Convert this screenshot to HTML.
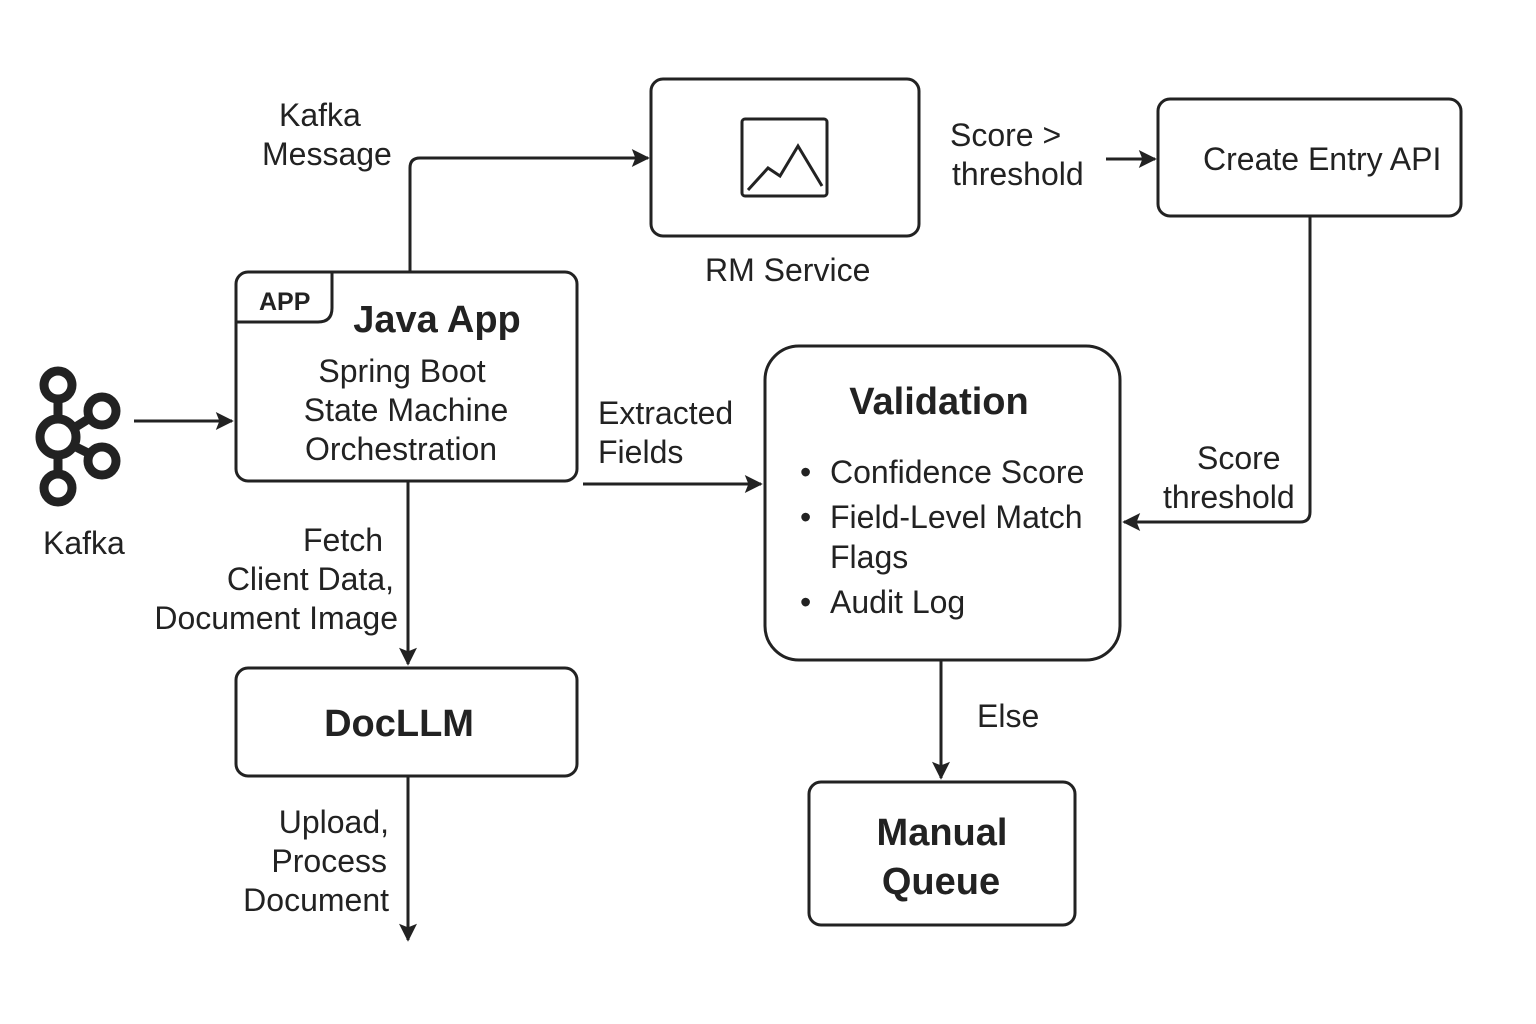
<!DOCTYPE html>
<html><head><meta charset="utf-8"><style>
body{margin:0;background:#fff}
svg{display:block}
text{font-family:"Liberation Sans",sans-serif;fill:#222}
</style></head><body>
<svg width="1536" height="1024" viewBox="0 0 1536 1024">
<defs>
<marker id="b" viewBox="0 0 10 10" refX="9" refY="5" markerWidth="24" markerHeight="18" markerUnits="userSpaceOnUse" orient="auto"><path d="M0,0 L10,5 L0,10 L2,5 z" fill="#222"/></marker></defs>
<g fill="none" stroke="#222" stroke-width="3">
<rect x="651" y="79" width="268" height="157" rx="12"/>
<rect x="742" y="119" width="85" height="77" rx="3"/>
<path d="M748,190 L768,168 L780,176 L798,146 L822,186" />
<rect x="1158" y="99" width="303" height="117" rx="12"/>
<rect x="236" y="272" width="341" height="209" rx="12"/>
<path d="M236,322 H318 Q332,322 332,308 V272"/>
<rect x="765" y="346" width="355" height="314" rx="34"/>
<rect x="236" y="668" width="341" height="108" rx="12"/>
<rect x="809" y="782" width="266" height="143" rx="12"/>
</g>
<g fill="none" stroke="#222" stroke-width="9">
<circle cx="58" cy="385" r="14"/><circle cx="102" cy="411" r="14"/><circle cx="58" cy="437" r="18"/><circle cx="102" cy="461" r="14"/><circle cx="58" cy="488" r="14"/>
<path d="M58,399 V419 M58,455 V474 M74,428 L90,418 M74,446 L90,454"/>
</g>
<g fill="none" stroke="#222" stroke-width="3">
<path d="M134,421 H232" marker-end="url(#b)"/>
<path d="M410,272 V168 Q410,158 420,158 H648" marker-end="url(#b)"/>
<path d="M1106,159 H1155" marker-end="url(#b)"/>
<path d="M1310,216 V512 Q1310,522 1300,522 H1124" marker-end="url(#b)"/>
<path d="M583,484 H761" marker-end="url(#b)"/>
<path d="M408,481 V664" marker-end="url(#b)"/>
<path d="M408,776 V940" marker-end="url(#b)"/>
<path d="M941,660 V778" marker-end="url(#b)"/>
</g>
<g font-size="32">
<text x="279" y="126">Kafka</text><text x="262" y="165">Message</text>
<text x="950" y="146">Score &gt;</text><text x="952" y="185">threshold</text>
<text x="1203" y="170">Create Entry API</text>
<text x="705" y="281">RM Service</text>
<text x="598" y="424">Extracted</text><text x="598" y="463">Fields</text>
<text x="1197" y="469">Score</text><text x="1163" y="508">threshold</text>
<text x="43" y="554">Kafka</text>
<text x="402" y="382" text-anchor="middle">Spring Boot</text>
<text x="406" y="421" text-anchor="middle">State Machine</text>
<text x="401" y="460" text-anchor="middle">Orchestration</text>
<text x="383" y="551" text-anchor="end">Fetch</text>
<text x="394" y="590" text-anchor="end">Client Data,</text>
<text x="398" y="629" text-anchor="end">Document Image</text>
<text x="389" y="833" text-anchor="end">Upload,</text>
<text x="387" y="872" text-anchor="end">Process</text>
<text x="389" y="911" text-anchor="end">Document</text>
<text x="977" y="727">Else</text>
<text x="830" y="483">Confidence Score</text>
<text x="830" y="528">Field-Level Match</text>
<text x="830" y="568">Flags</text>
<text x="830" y="613">Audit Log</text>
<text x="800" y="483">•</text><text x="800" y="528">•</text><text x="800" y="613">•</text>
</g>
<text x="259" y="310" font-size="25" font-weight="bold">APP</text>
<g font-weight="bold" font-size="38">
<text x="437" y="332" text-anchor="middle">Java App</text>
<text x="939" y="414" text-anchor="middle">Validation</text>
<text x="399" y="736" text-anchor="middle">DocLLM</text>
<text x="942" y="845" text-anchor="middle">Manual</text>
<text x="941" y="894" text-anchor="middle">Queue</text>
</g>
</svg>
</body></html>
